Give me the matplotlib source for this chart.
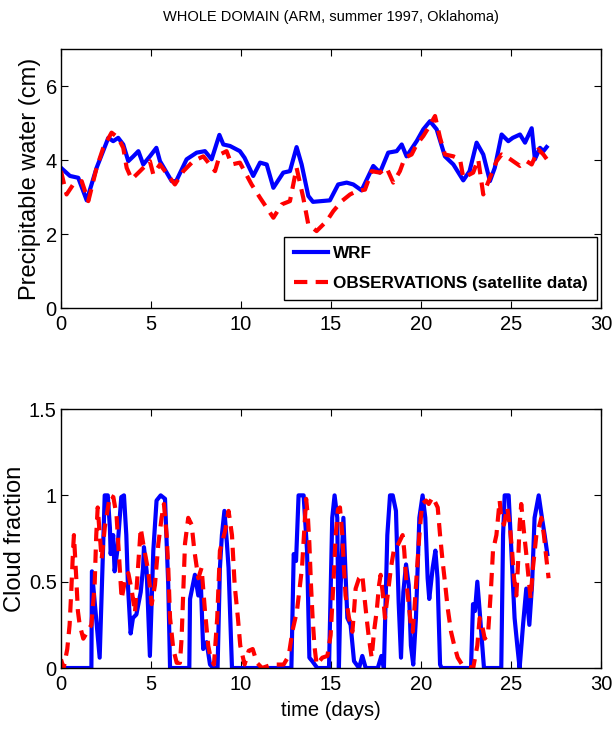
import numpy as np
import matplotlib
matplotlib.use('Agg')
import matplotlib.pyplot as plt

# precipitable water (cm)
t_pw_wrf = [0, 0.5, 0.96, 1.43, 1.98, 2.63, 2.9, 3.18, 3.46, 3.74, 4.02, 4.3, 4.57,
            4.94, 5.3, 5.5, 6.15, 6.4, 6.98, 7.54, 8.0, 8.37, 8.8, 9.02, 9.39, 9.94,
            10.2, 10.68, 11.06, 11.43, 11.8, 12.35, 12.72, 13.09, 13.37, 13.74, 14.0,
            14.94, 15.4, 15.87, 16.24, 16.7, 17.35, 17.72, 18.18, 18.65, 18.93, 19.2,
            19.76, 20.13, 20.5, 20.87, 21.33, 21.8, 22.35, 22.7, 23.09, 23.46, 23.83,
            24.1, 24.48, 24.85, 25.1, 25.5, 25.78, 26.15, 26.33, 26.61, 26.8, 26.98]
pw_wrf = [3.79, 3.57, 3.52, 2.91, 3.79, 4.6, 4.51, 4.6, 4.42, 3.97, 4.1, 4.24, 3.88,
          4.1, 4.33, 3.97, 3.43, 3.43, 4.02, 4.2, 4.24, 4.02, 4.68, 4.42, 4.38, 4.24,
          4.06, 3.57, 3.93, 3.88, 3.25, 3.66, 3.7, 4.35, 3.88, 3.03, 2.87,
          2.91, 3.34, 3.39, 3.34, 3.18, 3.84, 3.66, 4.2, 4.24, 4.42, 4.1,
          4.51, 4.83, 5.05, 4.83, 4.1, 3.88, 3.45, 3.7, 4.47, 4.15, 3.43,
          3.79, 4.69, 4.51, 4.6, 4.69, 4.47, 4.86, 4.02, 4.33, 4.24, 4.35]

t_pw_obs = [0, 0.31, 0.68, 1.15, 1.52, 1.98, 2.35, 2.81, 3.18, 3.46, 3.65, 3.93, 4.39,
            4.94, 5.13, 5.5, 6.33, 6.8, 7.35, 7.91, 8.56, 8.83, 9.2, 9.48, 9.94, 10.59,
            11.06, 11.43, 11.8, 12.26, 12.72, 13.09, 13.46, 13.74, 14.2, 14.76, 15.13,
            15.6, 16.06, 16.43, 16.89, 17.26, 17.72, 18.09, 18.46, 18.83, 19.1, 19.48,
            19.76, 20.13, 20.41, 20.78, 21.06, 21.33, 21.8, 22.17, 22.35, 22.9, 23.18,
            23.46, 23.83, 24.2, 24.48, 24.85, 25.5, 25.87, 26.15, 26.52, 26.8, 27.07]
pw_obs = [3.7, 3.07, 3.34, 3.43, 2.89, 3.79, 4.33, 4.74, 4.6, 4.33, 3.79, 3.48, 3.7,
          3.97, 3.61, 3.88, 3.34, 3.7, 3.97, 4.1, 3.7, 4.15, 4.24, 3.88, 3.93, 3.34,
          2.98, 2.71, 2.44, 2.8, 2.89, 3.79, 2.98, 2.26, 2.08, 2.35, 2.62,
          2.89, 3.07, 3.16, 3.2, 3.7, 3.66, 3.79, 3.39, 3.7, 4.06, 4.15,
          4.42, 4.65, 4.87, 5.19, 4.6, 4.15, 4.1, 4.02, 3.52, 3.66, 4.02,
          3.07, 3.52, 3.97, 4.15, 4.06, 3.84, 3.97, 3.88, 4.29, 4.15, 3.97]

# cloud fraction
t_cf_wrf = [0, 1.69, 1.72, 2.15, 2.43, 2.6, 2.72, 2.76, 2.9, 2.98, 3.13, 3.35, 3.5,
            3.63, 3.72, 3.87, 4.0, 4.19, 4.43, 4.56, 4.61, 4.76, 4.94, 5.13, 5.31,
            5.54, 5.78, 5.96, 6.06, 7.13, 7.17, 7.44, 7.63, 7.76, 7.9, 8.09, 8.28,
            8.46, 8.7, 8.83, 8.94, 9.08, 9.22, 9.31, 9.5, 12.8, 12.93, 13.06, 13.2,
            13.48, 13.67, 13.8, 13.96, 14.24, 14.89, 15.07, 15.2, 15.35, 15.44, 15.54,
            15.69, 15.81, 15.91, 16.09, 16.28, 16.56, 16.74, 16.93, 17.6, 17.8, 17.94,
            18.13, 18.28, 18.43, 18.61, 18.76, 18.89, 19.02, 19.17, 19.32, 19.44,
            19.57, 19.72, 19.91, 20.09, 20.24, 20.37, 20.46, 20.65, 20.8, 20.92,
            21.06, 21.15, 22.78, 22.89, 23.0, 23.13, 23.26, 23.39, 23.5, 24.46, 24.56,
            24.65, 24.87, 24.98, 25.2, 25.35, 25.48, 25.67, 25.85, 26.02, 26.17,
            26.31, 26.54, 26.72, 26.87, 27.02]
cf_wrf = [0, 0, 0.56, 0.06, 1.0, 1.0, 0.81, 0.66, 0.77, 0.56, 0.68, 0.99, 1.0,
          0.77, 0.48, 0.2, 0.29, 0.31, 0.44, 0.58, 0.7, 0.56, 0.07, 0.68, 0.97,
          1.0, 0.98, 0.48, 0, 0, 0.4, 0.54, 0.42, 0.52, 0.11, 0.15, 0.02,
          0, 0, 0.58, 0.77, 0.91, 0.72, 0.58, 0, 0, 0.66, 0.62, 1.0,
          1.0, 0.68, 0.06, 0.04, 0, 0, 0.87, 1.0, 0.87, 0, 0.48,
          0.87, 0.54, 0.29, 0.25, 0.04, 0, 0.07, 0, 0, 0.07, 0,
          0.77, 1.0, 1.0, 0.91, 0.38, 0.06, 0.44, 0.6, 0.48, 0.13,
          0.02, 0.29, 0.87, 1.0, 0.87, 0.52, 0.4, 0.58, 0.68, 0.52,
          0.02, 0, 0, 0.37, 0.33, 0.5, 0.33, 0.15, 0, 0, 0.77,
          1.0, 1.0, 0.77, 0.29, 0.13, 0, 0.25, 0.46, 0.25, 0.48,
          0.87, 1.0, 0.87, 0.77, 0.66]

t_cf_obs = [0, 0.15, 0.35, 0.48, 0.57, 0.67, 0.72, 0.85, 0.94, 1.04, 1.24, 1.52, 1.69,
            1.87, 1.96, 2.04, 2.26, 2.44, 2.72, 2.91, 3.09, 3.28, 3.37, 3.56, 3.74,
            3.93, 4.11, 4.28, 4.43, 4.57, 4.85, 5.04, 5.22, 5.41, 5.59, 5.72, 5.87,
            5.96, 6.06, 6.24, 6.43, 6.61, 6.7, 6.8, 6.89, 7.07, 7.26, 7.41, 7.63,
            7.81, 8.0, 8.18, 8.31, 8.5, 8.68, 8.83, 9.11, 9.31, 9.5, 9.65, 9.83,
            9.96, 10.2, 10.43, 10.65, 10.89, 11.17, 11.72, 12.37, 12.65, 12.87,
            13.11, 13.39, 13.5, 13.62, 13.72, 13.8, 13.89, 13.98, 14.08, 14.2, 14.52,
            14.8, 14.98, 15.13, 15.26, 15.39, 15.5, 15.63, 15.72, 15.81, 16.0, 16.19,
            16.28, 16.37, 16.56, 16.74, 16.87, 16.98, 17.11, 17.26, 17.39, 17.54,
            17.67, 17.76, 17.89, 18.0, 18.17, 18.33, 18.52, 18.7, 18.98, 19.07,
            19.2, 19.31, 19.44, 19.54, 19.63, 19.76, 19.91, 20.06, 20.28, 20.43,
            20.65, 20.93, 21.06, 21.2, 21.35, 21.48, 21.67, 21.85, 22.04, 22.28,
            22.9, 23.13, 23.26, 23.39, 23.54, 23.72, 23.81, 23.9, 24.0, 24.19,
            24.37, 24.46, 24.61, 24.79, 24.93, 25.06, 25.17, 25.3, 25.39, 25.48,
            25.57, 25.72, 25.85, 25.98, 26.09, 26.22, 26.41, 26.54, 26.69, 26.83,
            26.96, 27.09]
cf_obs = [0.05, 0, 0.11, 0.25, 0.44, 0.68, 0.77, 0.52, 0.33, 0.25, 0.17, 0.22, 0.25,
          0.48, 0.77, 0.93, 0.63, 0.82, 1.0, 0.99, 0.88, 0.55, 0.4, 0.51, 0.55,
          0.45, 0.32, 0.58, 0.81, 0.72, 0.56, 0.37, 0.48, 0.72, 0.87, 0.95, 0.77,
          0.58, 0.29, 0.11, 0.03, 0.03, 0.17, 0.46, 0.72, 0.87, 0.83, 0.68, 0.52,
          0.58, 0.33, 0.13, 0.06, 0.02, 0.29, 0.68, 0.79, 0.91, 0.77, 0.48, 0.29,
          0.13, 0.02, 0.1, 0.11, 0.03, 0, 0.02, 0.02, 0.07, 0.22,
          0.33, 0.58, 0.77, 0.98, 0.87, 0.72, 0.48, 0.29, 0.13, 0.02, 0.06,
          0.07, 0.19, 0.48, 0.77, 0.92, 0.93, 0.77, 0.58, 0.42, 0.29, 0.21,
          0.33, 0.46, 0.52, 0.54, 0.4, 0.29, 0.17, 0.06, 0.21, 0.33,
          0.48, 0.54, 0.42, 0.29, 0.44, 0.58, 0.7, 0.71, 0.77, 0.68,
          0.48, 0.38, 0.25, 0.21, 0.33, 0.54, 0.77, 0.95, 0.97, 0.95,
          0.99, 0.93, 0.77, 0.62, 0.48, 0.35, 0.21, 0.13, 0.06, 0.02,
          0, 0.13, 0.29, 0.25, 0.17, 0.19, 0.33, 0.48, 0.68, 0.77,
          0.97, 0.87, 0.83, 0.93, 0.83, 0.68, 0.52, 0.42, 0.6, 0.83,
          0.95, 0.79, 0.66, 0.52, 0.4, 0.58, 0.77, 0.81, 0.87, 0.77,
          0.64, 0.52]

font = ['Liberation Sans', 'DejaVu Sans']
plt.rcParams['font.family'] = font

fig = plt.figure(figsize=(6.14, 7.32), dpi=100)
ax1 = fig.add_axes([0.0993, 0.5792, 0.8795, 0.3538])
ax2 = fig.add_axes([0.0993, 0.0874, 0.8795, 0.3538])

dash = (0, (3.2, 2.0))

ax1.plot(t_pw_wrf, pw_wrf, color='#0000ff', lw=3, label='WRF')
ax1.plot(t_pw_obs, pw_obs, color='#ff0000', lw=3, linestyle=dash,
         label='OBSERVATIONS (satellite data)')
ax1.set_xlim(0, 30)
ax1.set_ylim(0, 7)
ax1.set_yticks([0, 2, 4, 6])
ax1.set_ylabel('Precipitable water (cm)', fontsize=17)
ax1.yaxis.set_label_coords(-0.057, 0.5)
ax1.yaxis.label.set_va('center')
ax1.set_title('WHOLE DOMAIN (ARM, summer 1997, Oklahoma)', fontsize=10.5, pad=20)
leg = ax1.legend(loc='lower right', bbox_to_anchor=(0.993, 0.031),
                 borderaxespad=0, fancybox=False, edgecolor='black',
                 framealpha=1, handlelength=2.0, handletextpad=0.3,
                 labelspacing=0.85, borderpad=0.55,
                 prop={'weight': 'bold', 'size': 12.3})
leg.get_frame().set_linewidth(1.0)

ax2.plot(t_cf_wrf, cf_wrf, color='#0000ff', lw=3)
ax2.plot(t_cf_obs, cf_obs, color='#ff0000', lw=3, linestyle=dash)
ax2.set_xlim(0, 30)
ax2.set_ylim(0, 1.5)
ax2.set_yticks([0, 0.5, 1, 1.5])
ax2.set_yticklabels(['0', '0.5', '1', '1.5'])
ax2.set_ylabel('Cloud fraction', fontsize=17)
ax2.yaxis.set_label_coords(-0.085, 0.5)
ax2.yaxis.label.set_va('center')
ax2.set_xlabel('time (days)', fontsize=14.5, labelpad=5)

for ax in (ax1, ax2):
    ax.set_xticks([0, 5, 10, 15, 20, 25, 30])
    ax.tick_params(direction='in', top=True, right=True, length=5, width=0.8,
                   labelsize=14.5, pad=5)
    ax.tick_params(axis='y', pad=3)
    for s in ax.spines.values():
        s.set_linewidth(1.0)

fig.savefig('out.png', dpi=100)
